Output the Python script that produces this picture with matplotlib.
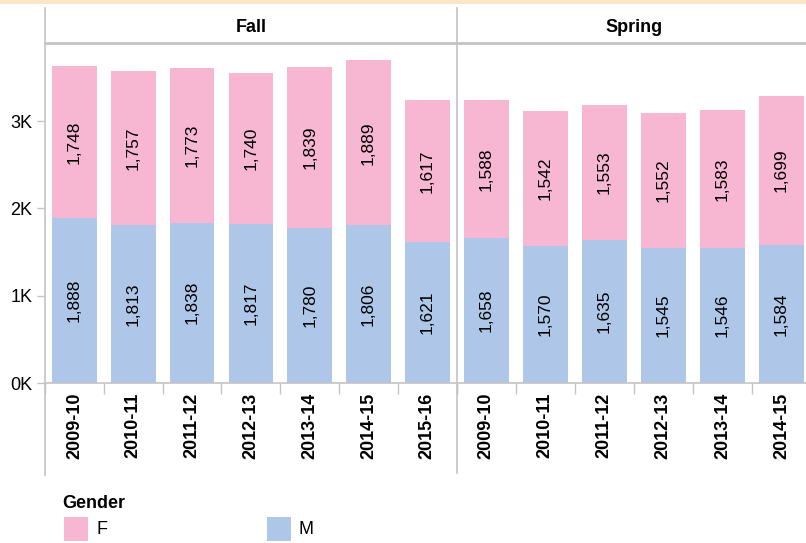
import numpy as np
import matplotlib.pyplot as plt
from matplotlib.lines import Line2D
from matplotlib.patches import Rectangle
from matplotlib.ticker import FuncFormatter, FixedLocator

plt.rcParams['font.family'] = ['Liberation Sans', 'DejaVu Sans']

# data
fall_years = ["2009-10", "2010-11", "2011-12", "2012-13", "2013-14", "2014-15", "2015-16"]
fall_m = [1888, 1813, 1838, 1817, 1780, 1806, 1621]
fall_f = [1748, 1757, 1773, 1740, 1839, 1889, 1617]

spring_years = ["2009-10", "2010-11", "2011-12", "2012-13", "2013-14", "2014-15"]
spring_m = [1658, 1570, 1635, 1545, 1546, 1584]
spring_f = [1588, 1542, 1553, 1552, 1583, 1699]

col_f = '#f7b6d2'
col_m = '#aec7e8'
grey = '#c4c4c4'

W, H = 806, 543
fig = plt.figure(figsize=(W / 100, H / 100), dpi=100)


def fx(px):
    return px / W


def fy(py):
    return 1 - py / H


top, base = 43, 383
ax_fall = fig.add_axes([fx(45), fy(base), fx(456.7 - 45), (base - top) / H])
ax_spring = fig.add_axes([fx(456.7), fy(base), fx(811 - 456.7), (base - top) / H])


def draw_panel(ax, years, m, f, show_y):
    x = np.arange(len(years))
    ax.bar(x, m, width=0.76, color=col_m)
    ax.bar(x, f, width=0.76, bottom=m, color=col_f)
    for i in range(len(years)):
        ax.text(x[i], m[i] / 2, f"{m[i]:,}", rotation=90, ha='center', va='center', fontsize=12.5)
        ax.text(x[i], m[i] + f[i] / 2, f"{f[i]:,}", rotation=90, ha='center', va='center', fontsize=12.5)
    ax.set_xlim(-0.5, len(years) - 0.5)
    ax.set_ylim(0, 3895)
    for s in ax.spines.values():
        s.set_visible(False)
    ax.set_xticks(x)
    ax.set_xticklabels(years, rotation=90, fontweight='bold', fontsize=13)
    ax.tick_params(axis='x', which='major', length=0, pad=7)
    ax.xaxis.set_minor_locator(FixedLocator(np.arange(len(years) + 1) - 0.5))
    ax.tick_params(axis='x', which='minor', length=8, color=grey, width=1)
    if show_y:
        ax.set_yticks([0, 1000, 2000, 3000])
        ax.yaxis.set_major_formatter(FuncFormatter(lambda v, p: f"{int(v // 1000)}K"))
        ax.tick_params(axis='y', length=6, color=grey, width=1, labelsize=13, pad=3)
    else:
        ax.set_yticks([])


draw_panel(ax_fall, fall_years, fall_m, fall_f, True)
draw_panel(ax_spring, spring_years, spring_m, spring_f, False)

# panel headers
fig.text(fx((45 + 456.7) / 2), fy(27), "Fall", ha='center', va='center', fontweight='bold', fontsize=13)
fig.text(fx((456.7 + 811) / 2), fy(27), "Spring", ha='center', va='center', fontweight='bold', fontsize=13)

# frame lines
lines = [
    ((45, 45), (8, 475), 1.2),
    ((456.7, 456.7), (8, 473), 1.2),
    ((45, 806), (43, 43), 2.0),
    ((45, 806), (base, base), 1.2),
]
for xs, ys, lw in lines:
    fig.add_artist(Line2D([fx(v) for v in xs], [fy(v) for v in ys], color=grey, lw=lw))

# top strip
fig.add_artist(Rectangle((0, fy(4)), 1, 4 / H, transform=fig.transFigure, color='#fbe7c6', lw=0))

# legend
fig.text(fx(62), fy(503), "Gender", ha='left', va='center', fontweight='bold', fontsize=13)
for sx, label, c in [(64, "F", col_f), (267, "M", col_m)]:
    fig.add_artist(Rectangle((fx(sx), fy(541)), 24 / W, 24 / H, transform=fig.transFigure, color=c, lw=0))
    fig.text(fx(sx + 32), fy(529), label, ha='left', va='center', fontsize=13)

fig.savefig('out.png', dpi=100)
